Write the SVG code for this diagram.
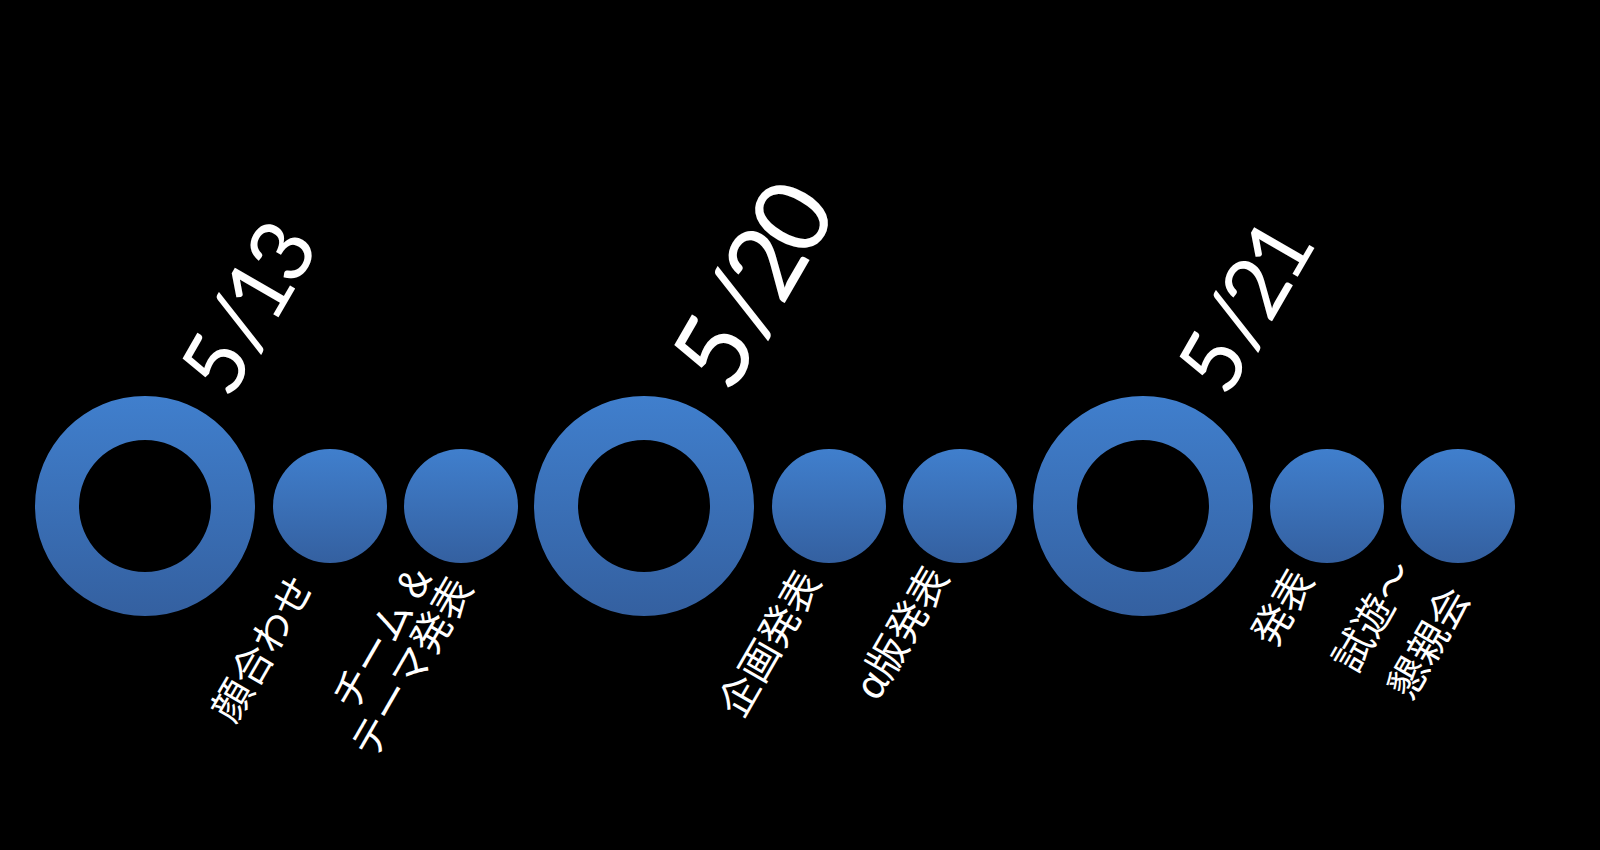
<svg xmlns="http://www.w3.org/2000/svg" width="1600" height="850" viewBox="0 0 1600 850">
<defs>
<linearGradient id="blue" x1="0" y1="0" x2="0" y2="1">
<stop offset="0" stop-color="#407FCD"/>
<stop offset="1" stop-color="#3460A0"/>
</linearGradient>
<style>
.ring{fill:url(#blue);fill-rule:evenodd}
.dot{fill:url(#blue)}
.date{fill:#fff;font-family:Lato,"Liberation Sans",sans-serif;font-size:87px}
.lbl{fill:#fff;font-family:"Noto Sans CJK JP","Noto Sans",sans-serif;font-size:40px}
</style>
</defs>
<rect width="1600" height="850" fill="#000"/>
<g id="connectors"></g>
<g id="m1">
<path class="ring" d="M35,506a110,110 0 1,0 220,0a110,110 0 1,0 -220,0ZM79,506a66,66 0 1,0 132,0a66,66 0 1,0 -132,0Z"/>
<text class="date" transform="translate(230,401) rotate(-60)">5<tspan dx="2">/</tspan><tspan dx="-6">1</tspan><tspan dx="-6">3</tspan></text>
</g>
<g id="n1"><circle class="dot" cx="330" cy="506" r="57"/>
<text class="lbl" transform="translate(235,725) rotate(-60)">顔合わせ</text></g>
<g id="n2"><circle class="dot" cx="461" cy="506" r="57"/>
<text class="lbl" transform="translate(355,713) rotate(-60)">チーム<tspan dx="10">&amp;</tspan></text>
<text class="lbl" transform="translate(374,761) rotate(-60)">テーマ発表</text></g>
<g id="m2">
<path class="ring" d="M534,506a110,110 0 1,0 220,0a110,110 0 1,0 -220,0ZM578,506a66,66 0 1,0 132,0a66,66 0 1,0 -132,0Z"/>
<text class="date" style="font-size:104px" transform="translate(731,396) rotate(-60)">5<tspan dx="2">/</tspan><tspan dx="-7">2</tspan><tspan dx="-7">0</tspan></text>
</g>
<g id="n3"><circle class="dot" cx="829" cy="506" r="57"/>
<text class="lbl" transform="translate(742,720) rotate(-60)">企画発表</text></g>
<g id="n4"><circle class="dot" cx="960" cy="506" r="57"/>
<text class="lbl" transform="translate(950,577) rotate(-60)" text-anchor="end">α版発表</text></g>
<g id="m3">
<path class="ring" d="M1033,506a110,110 0 1,0 220,0a110,110 0 1,0 -220,0ZM1077,506a66,66 0 1,0 132,0a66,66 0 1,0 -132,0Z"/>
<text class="date" transform="translate(1227,399) rotate(-60)">5<tspan dx="2">/</tspan><tspan dx="-6">2</tspan><tspan dx="-6">1</tspan></text>
</g>
<g id="n5"><circle class="dot" cx="1327" cy="506" r="57"/>
<text class="lbl" transform="translate(1315,580) rotate(-60)" text-anchor="end">発表</text></g>
<g id="n6"><circle class="dot" cx="1458" cy="506" r="57"/>
<text class="lbl" transform="translate(1356,675) rotate(-60)">試遊〜</text>
<text class="lbl" transform="translate(1411,702) rotate(-60)">懇親会</text></g>
</svg>
